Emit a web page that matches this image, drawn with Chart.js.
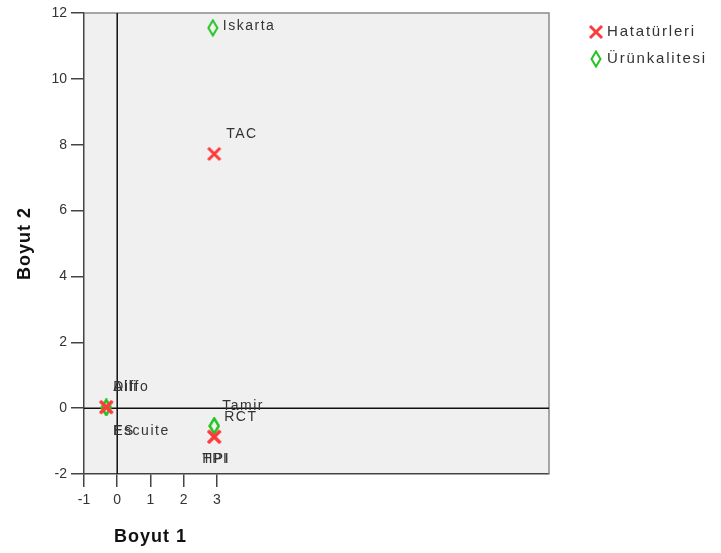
<!DOCTYPE html>
<html>
<head>
<meta charset="utf-8">
<script src="https://cdn.jsdelivr.net/npm/chart.js@4/dist/chart.umd.min.js"></script>
<style>
  html, body { margin: 0; padding: 0; background: #fff; }
  #wrap { width: 721px; height: 553px; }
</style>
</head>
<body>
<div id="wrap"><canvas id="c" width="721" height="553"></canvas></div>
<script>
// Series: error types (Hatatürleri) and product quality (Ürünkalitesi)
const hataNames = ['TAC', 'RCT', 'HPI', 'Alli', 'ES'];
const hataX     = [2.92, 2.92, 2.92, -0.33, -0.33];
const hataY     = [7.72, -0.87, -0.87, 0.03, 0.03];

const urunNames = ['Iskarta', 'Tamir', 'TPI', 'Diffo', 'Escuite'];
const urunX     = [2.88, 2.92, 2.92, -0.33, -0.33];
const urunY     = [11.55, -0.54, -0.54, 0.02, 0.02];

const seriesNames = ['Hatatürleri', 'Ürünkalitesi'];
const xTickValues = [-1, 0, 1, 2, 3];
const yTickValues = [-2, 0, 2, 4, 6, 8, 10, 12];
const axisTitles  = { x: 'Boyut 1', y: 'Boyut 2' };

// label offsets (px) from each marker, per series
const hataLabelOffsets = [[12, -20], [10, -20], [-12, 22], [7, -20], [7, 24]];
const urunLabelOffsets = [[10, -2], [8, -20], [-12, 33], [7, -20], [7, 24]];

const FONT = '"Liberation Sans", Arial, sans-serif';

function crossMarker() {
  const c = document.createElement('canvas');
  c.width = 16; c.height = 16;
  const g = c.getContext('2d');
  g.strokeStyle = '#ff3a3a';
  g.lineWidth = 3;
  g.beginPath();
  g.moveTo(2, 2); g.lineTo(14, 14);
  g.moveTo(14, 2); g.lineTo(2, 14);
  g.stroke();
  return c;
}
function diamondMarker() {
  const c = document.createElement('canvas');
  c.width = 12; c.height = 18;
  const g = c.getContext('2d');
  g.strokeStyle = '#22c422';
  g.lineWidth = 2;
  g.beginPath();
  g.moveTo(6, 1.5); g.lineTo(10.5, 9); g.lineTo(6, 16.5); g.lineTo(1.5, 9);
  g.closePath();
  g.stroke();
  return c;
}
const markers = [crossMarker(), diamondMarker()];

const toPts = (xs, ys) => xs.map((x, i) => ({ x: x, y: ys[i] }));

const pointLabels = {
  id: 'pointLabels',
  afterDatasetsDraw(chart) {
    const ctx = chart.ctx;
    const sets = [[hataNames, hataLabelOffsets], [urunNames, urunLabelOffsets]];
    ctx.save();
    ctx.font = '14px ' + FONT;
    ctx.letterSpacing = '1.5px';
    ctx.fillStyle = '#333';
    ctx.textBaseline = 'middle';
    ctx.textAlign = 'left';
    sets.forEach(([names, offs], di) => {
      const meta = chart.getDatasetMeta(di);
      meta.data.forEach((el, i) => {
        ctx.fillText(names[i], el.x + offs[i][0], el.y + offs[i][1]);
      });
    });
    ctx.restore();
  }
};

const plotFrame = {
  id: 'plotFrame',
  beforeDraw(chart) {
    const { ctx, chartArea: a } = chart;
    ctx.save();
    ctx.fillStyle = '#f0f0f0';
    ctx.fillRect(a.left, a.top, a.right - a.left, a.bottom - a.top);
    ctx.restore();
  },
  beforeDatasetsDraw(chart) {
    const { ctx, chartArea: a, scales } = chart;
    ctx.save();
    // top and right frame
    ctx.strokeStyle = '#8a8a8a';
    ctx.lineWidth = 1.5;
    ctx.beginPath();
    ctx.moveTo(a.left, a.top); ctx.lineTo(a.right, a.top); ctx.lineTo(a.right, a.bottom);
    ctx.stroke();
    // reference lines through the origin
    ctx.strokeStyle = '#111';
    ctx.lineWidth = 1.5;
    const x0 = scales.x.getPixelForValue(0);
    const y0 = scales.y.getPixelForValue(0);
    ctx.beginPath();
    ctx.moveTo(x0, a.top); ctx.lineTo(x0, a.bottom);
    ctx.moveTo(a.left, y0); ctx.lineTo(a.right, y0);
    ctx.stroke();
    ctx.restore();
  },
  afterDraw(chart) {
    const { ctx, scales } = chart;
    ctx.save();
    ctx.fillStyle = '#111';
    ctx.font = 'bold 18px ' + FONT;
    ctx.letterSpacing = '1px';
    ctx.textAlign = 'center';
    ctx.textBaseline = 'middle';
    const xMid = (scales.x.getPixelForValue(xTickValues[0]) +
                  scales.x.getPixelForValue(xTickValues[xTickValues.length - 1])) / 2;
    ctx.fillText(axisTitles.x, xMid, 537);
    ctx.translate(25, (chart.chartArea.top + chart.chartArea.bottom) / 2);
    ctx.rotate(-Math.PI / 2);
    ctx.fillText(axisTitles.y, 0, 0);
    ctx.restore();

    // legend
    ctx.save();
    ctx.font = '15px ' + FONT;
    ctx.letterSpacing = '1.8px';
    ctx.fillStyle = '#333';
    ctx.textBaseline = 'middle';
    chart.data.datasets.forEach((ds, i) => {
      const cy = 32 + i * 27;
      const m = markers[i];
      ctx.drawImage(m, 596 - m.width / 2, cy - m.height / 2);
      ctx.fillText(ds.label, 607, cy);
    });
    ctx.restore();
  }
};

new Chart(document.getElementById('c'), {
  type: 'scatter',
  data: {
    datasets: [
      { label: seriesNames[0], data: toPts(hataX, hataY), pointStyle: markers[0], pointRadius: 8 },
      { label: seriesNames[1], data: toPts(urunX, urunY), pointStyle: markers[1], pointRadius: 8 }
    ]
  },
  options: {
    responsive: false,
    animation: false,
    devicePixelRatio: 1,
    layout: { padding: { top: 13, right: 172, left: 0, bottom: 0 } },
    plugins: { legend: { display: false }, tooltip: { enabled: false } },
    scales: {
      x: {
        type: 'linear', min: -1, max: 13,
        afterBuildTicks: s => { s.ticks = xTickValues.map(v => ({ value: v })); },
        afterFit: s => { s.height = 79; },
        grid: { drawOnChartArea: false, drawTicks: true, tickLength: 13, color: '#444', lineWidth: 1.5 },
        border: { display: true, color: '#444', width: 1.5 },
        ticks: { color: '#333', font: { size: 14, family: FONT }, padding: 5, maxRotation: 0 }
      },
      y: {
        type: 'linear', min: -2, max: 12,
        afterBuildTicks: s => { s.ticks = yTickValues.map(v => ({ value: v })); },
        afterFit: s => { s.width = 84; },
        grid: { drawOnChartArea: false, drawTicks: true, tickLength: 13, color: '#444', lineWidth: 1.5 },
        border: { display: true, color: '#444', width: 1.5 },
        ticks: { color: '#333', font: { size: 14, family: FONT }, padding: 4 }
      }
    }
  },
  plugins: [plotFrame, pointLabels]
});
</script>
</body>
</html>
